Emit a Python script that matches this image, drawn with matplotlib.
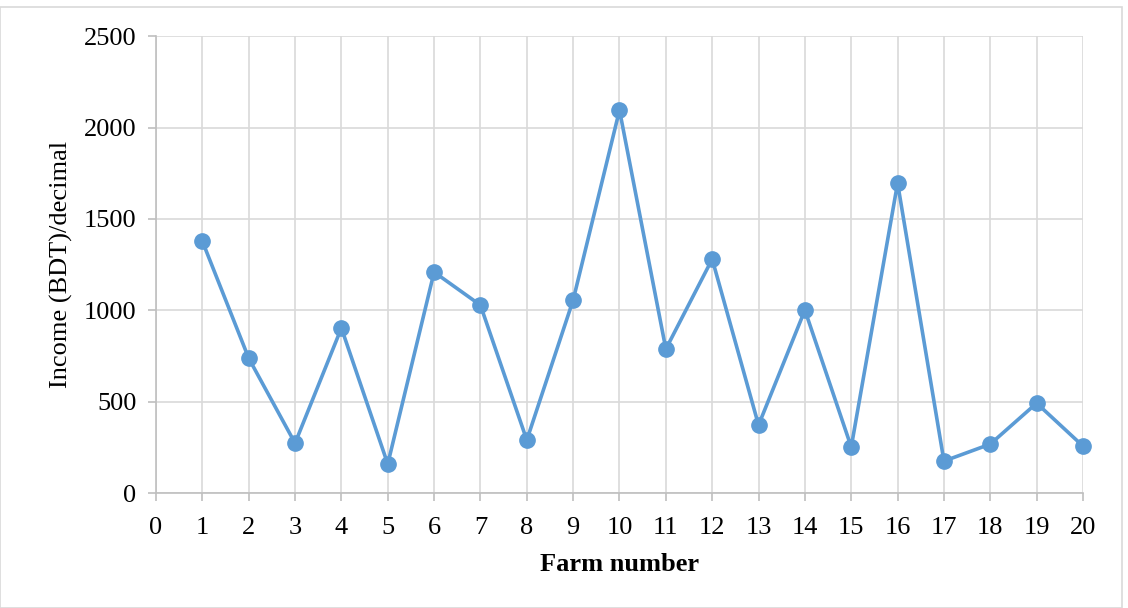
import matplotlib
matplotlib.use('Agg')
import matplotlib.pyplot as plt
from matplotlib.patches import Rectangle

plt.rcParams['font.family'] = ['Liberation Serif', 'DejaVu Serif']

farms = list(range(1, 21))
income = [1378, 738, 273, 903, 159, 1209, 1028, 290, 1056, 2095,
          788, 1280, 372, 1001, 252, 1696, 175, 268, 492, 257]

fig = plt.figure(figsize=(11.28, 6.08), dpi=100)
ax = fig.add_axes([0.1383, 0.189, 0.8218, 0.7516])

ax.plot(farms, income, color='#5B9BD5', linewidth=2.6, marker='o',
        markersize=11, zorder=3, clip_on=False)

ax.set_xlim(0, 20)
ax.set_ylim(0, 2500)
ax.set_xticks(range(0, 21))
ax.set_yticks(range(0, 2501, 500))
ax.grid(True, color='#D9D9D9', linewidth=1.2)
ax.set_axisbelow(True)
for s in ['top', 'right']:
    ax.spines[s].set_visible(False)
for s in ['left', 'bottom']:
    ax.spines[s].set_color('#BFBFBF')
    ax.spines[s].set_linewidth(1.2)
ax.tick_params(axis='both', colors='#BFBFBF', labelcolor='black',
               labelsize=19, length=6, width=1.2)
ax.tick_params(axis='x', pad=11)
ax.tick_params(axis='y', pad=8)

ax.set_xlabel('Farm number', fontsize=19, fontweight='bold', labelpad=10)
ax.set_ylabel('Income (BDT)/decimal', fontsize=19, labelpad=8)

fig.patches.append(Rectangle((0.0, 0.0), 0.9947, 0.988, transform=fig.transFigure,
                             fill=False, edgecolor='#D9D9D9', linewidth=1.2))

fig.savefig('out.png', dpi=100)
